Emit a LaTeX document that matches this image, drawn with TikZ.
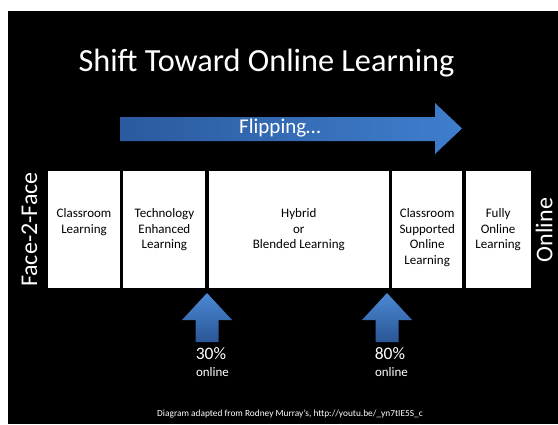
\documentclass[tikz,border=0pt]{standalone}
\usepackage{fontspec}
\setmainfont{Carlito}
\usepackage{tikz}
\usetikzlibrary{positioning,shapes.geometric}

\definecolor{flipdark}{HTML}{2B5A9E}
\definecolor{fliplight}{HTML}{3F7ECD}
\definecolor{uptop}{HTML}{4B89D3}
\definecolor{upbottom}{HTML}{2A5696}

\begin{document}
\begin{tikzpicture}[
    x=1pt, y=-1pt,
    font=\fontsize{13}{15.5}\selectfont,
    stage/.style={
		rectangle,
		fill=white,
		draw=none,
		inner sep=0pt,
		minimum height=117pt
	},
	stagetext/.style={
		text=black,
		align=center,
		inner sep=0pt
	},
	side/.style={
		text=white,
		rotate=90,
		inner sep=0pt,
		font=\fontsize{24}{28}\selectfont
	},
	pct/.style={
		text=white,
		inner sep=0pt,
		anchor=base,
		font=\fontsize{17.5}{20}\selectfont
	},
	pctsub/.style={
		text=white,
		inner sep=0pt,
		anchor=base,
		font=\fontsize{13}{15}\selectfont
	},
	upshade/.style={
		top color=uptop,
		bottom color=upbottom,
		draw=none
	}
  ]

% // background
\fill [white] (0,0) rectangle (558,424);
\fill [black] (8,11) rectangle (558,424);

\node [anchor=base, text=white, inner sep=0pt, font=\fontsize{32.3}{36}\selectfont] (title) at (266.5,71) {Shift Toward Online Learning};

% // The flipping arrow
\shade [left color=flipdark, right color=fliplight] (120,117) -- (435,117) -- (435,103) -- (462,128.5) -- (435,154) -- (435,141) -- (120,141) -- cycle;
\node [anchor=base, text=white, inner sep=0pt, font=\fontsize{21}{24}\selectfont] (flip) at (280,133) {Flipping\dots};

% // The stages
\node [stage, minimum width=72pt] (box1) at (84,229.5) {};
\node [stage, minimum width=82pt, right=3pt of box1] (box2) {};
\node [stage, minimum width=180pt, right=3pt of box2] (box3) {};
\node [stage, minimum width=70pt, right=3pt of box3] (box4) {};
\node [stage, minimum width=65pt, right=3pt of box4] (box5) {};

\node [stagetext, below=37.5pt of box1.north] (text1) {Classroom\\Learning};
\node [stagetext, below=37.5pt of box2.north] (text2) {Technology\\Enhanced\\Learning};
\node [stagetext, below=37.5pt of box3.north] (text3) {Hybrid\\or\\Blended Learning};
\node [stagetext, below=37.5pt of box4.north] (text4) {Classroom\\Supported\\Online\\Learning};
\node [stagetext, below=37.5pt of box5.north] (text5) {Fully\\Online\\Learning};

\node [side] (f2f) at (29.5,229.5) {Face-2-Face};
\node [side] (online) at (544,230) {Online};

% // The up arrows
\shade [upshade] (207,293) -- (232,320) -- (218.5,320) -- (218.5,342) -- (195.5,342) -- (195.5,320) -- (182,320) -- cycle;
\shade [upshade] (387,293) -- (412,320) -- (398.5,320) -- (398.5,342) -- (375.5,342) -- (375.5,320) -- (362,320) -- cycle;

\node [pct] (pct1) at (211,359) {30\%};
\node [pctsub] (sub1) at (212.5,376) {online};
\node [pct] (pct2) at (390,359) {80\%};
\node [pctsub] (sub2) at (391.5,376) {online};

\node [anchor=base, text=white, inner sep=0pt, font=\fontsize{9.35}{11}\selectfont] (credit) at (290,416) {Diagram adapted from Rodney Murray's, http://youtu.be/\_yn7tIE5S\_c};

\end{tikzpicture}
\end{document}
